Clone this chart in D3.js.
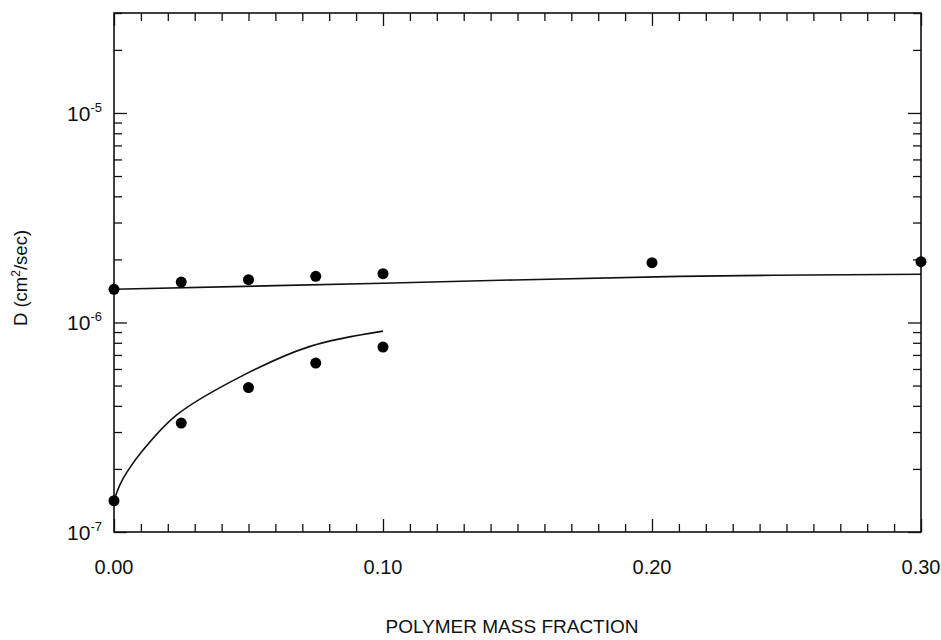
<!DOCTYPE html>
<html>
<head>
<meta charset="utf-8">
<script src="https://cdn.jsdelivr.net/npm/d3@7"></script>
<style>
  html, body { margin: 0; padding: 0; background: #fff; }
  svg { display: block; font-family: "Liberation Sans", Arial, Helvetica, sans-serif; }
</style>
</head>
<body>
<svg id="chart" width="941" height="640"></svg>
<script>
// ---- data ----
const upperX = [0, 0.025, 0.05, 0.075, 0.10, 0.20, 0.30];
const upperD = [1.44e-6, 1.56e-6, 1.60e-6, 1.66e-6, 1.71e-6, 1.93e-6, 1.95e-6];
const lowerX = [0, 0.025, 0.05, 0.075, 0.10];
const lowerD = [1.41e-7, 3.31e-7, 4.89e-7, 6.40e-7, 7.63e-7];
const upperFitX = [0, 0.10, 0.21, 0.30];
const upperFitD = [1.44e-6, 1.54e-6, 1.66e-6, 1.70e-6];
const lowerFitX = [0, 0.0022, 0.0048, 0.0108, 0.0233, 0.048, 0.0729, 0.100];
const lowerFitD = [1.42e-7, 1.68e-7, 1.93e-7, 2.46e-7, 3.62e-7, 5.59e-7, 7.69e-7, 9.09e-7];
const xTickLabels = ["0.00", "0.10", "0.20", "0.30"];
const xTickValues = [0, 0.10, 0.20, 0.30];
const yTickExponents = [-7, -6, -5];
const xTitle = "POLYMER MASS FRACTION";

// ---- layout ----
const L = 114, R = 921, T = 13, B = 532;
const svg = d3.select("#chart");
const x = d3.scaleLinear().domain([0, 0.30]).range([L, R]);
const y = d3.scaleLog().domain([1e-7, 3e-5]).range([B, T]);

const stroke = "#111";

// minor/major tick values
const xMinor = d3.range(0, 31).map(i => i / 100);
const yMinor = [];
for (let e = -7; e <= -5; e++) {
  for (let m = 1; m <= 9; m++) {
    const v = m * Math.pow(10, e);
    if (v <= 3.0001e-5) yMinor.push(v);
  }
}
const isMajorX = v => Math.abs(v * 10 - Math.round(v * 10)) < 1e-6;
const isMajorY = v => { const l = Math.log10(v); return Math.abs(l - Math.round(l)) < 1e-6; };

const g = svg.append("g");

// axes via d3 axis generators, ticks pointing inward
const bottomAxis = d3.axisBottom(x).tickValues(xMinor).tickFormat("").tickSizeOuter(0).tickSizeInner(-8);
const topAxis = d3.axisTop(x).tickValues(xMinor).tickFormat("").tickSizeOuter(0).tickSizeInner(-8);
const leftAxis = d3.axisLeft(y).tickValues(yMinor).tickFormat("").tickSizeOuter(0).tickSizeInner(-8);
const rightAxis = d3.axisRight(y).tickValues(yMinor).tickFormat("").tickSizeOuter(0).tickSizeInner(-8);

function styleAxis(sel, majorFn, horiz, sign) {
  sel.select(".domain").remove();
  sel.selectAll(".tick line")
    .attr("stroke", stroke).attr("stroke-width", 1.3)
    .each(function(d) {
      const len = majorFn(d) ? 13 : 8;
      if (horiz) d3.select(this).attr("y2", sign * len);
      else d3.select(this).attr("x2", sign * len);
    });
}

const gb = g.append("g").attr("transform", `translate(0,${B})`).call(bottomAxis);
styleAxis(gb, isMajorX, true, -1);
const gt = g.append("g").attr("transform", `translate(0,${T})`).call(topAxis);
styleAxis(gt, isMajorX, true, 1);
const gl = g.append("g").attr("transform", `translate(${L},0)`).call(leftAxis);
styleAxis(gl, isMajorY, false, 1);
const gr = g.append("g").attr("transform", `translate(${R},0)`).call(rightAxis);
styleAxis(gr, isMajorY, false, -1);

// frame
g.append("rect").attr("x", L).attr("y", T).attr("width", R - L).attr("height", B - T)
  .attr("fill", "none").attr("stroke", stroke).attr("stroke-width", 1.6);

// x tick labels
g.selectAll(".xlab").data(xTickValues).enter().append("text")
  .attr("x", d => x(d)).attr("y", 574)
  .attr("text-anchor", "middle").attr("font-size", 20).attr("fill", stroke)
  .text((d, i) => xTickLabels[i]);

// y tick labels
yTickExponents.forEach(e => {
  const t = g.append("text")
    .attr("x", 102).attr("y", y(Math.pow(10, e)) + 8)
    .attr("text-anchor", "end").attr("font-size", 21).attr("fill", stroke);
  t.append("tspan").text("10");
  t.append("tspan").attr("font-size", 13).attr("dy", -9).text("-" + Math.abs(e));
});

// axis titles
g.append("text").attr("x", 512).attr("y", 633).attr("text-anchor", "middle")
  .attr("font-size", 19).attr("fill", stroke).text(xTitle);

const yt = g.append("text").attr("transform", `translate(27,278) rotate(-90)`)
  .attr("text-anchor", "middle").attr("font-size", 18.5).attr("fill", stroke);
yt.append("tspan").text("D (cm");
yt.append("tspan").attr("font-size", 12).attr("dy", -7).text("2");
yt.append("tspan").attr("dy", 7).text("/sec)");

// fit lines
const line = d3.line().x(d => x(d[0])).y(d => y(d[1])).curve(d3.curveCatmullRom.alpha(0.5));
g.append("path").datum(d3.zip(upperFitX, upperFitD))
  .attr("d", line).attr("fill", "none")
  .attr("stroke", stroke).attr("stroke-width", 1.6);
g.append("path").datum(d3.zip(lowerFitX, lowerFitD))
  .attr("d", line).attr("fill", "none")
  .attr("stroke", stroke).attr("stroke-width", 1.6);

// points
const pts = d3.zip(upperX, upperD).concat(d3.zip(lowerX, lowerD));
g.selectAll(".pt").data(pts).enter().append("circle")
  .attr("cx", d => x(d[0])).attr("cy", d => y(d[1])).attr("r", 5.5)
  .attr("fill", "#000");
</script>
</body>
</html>
